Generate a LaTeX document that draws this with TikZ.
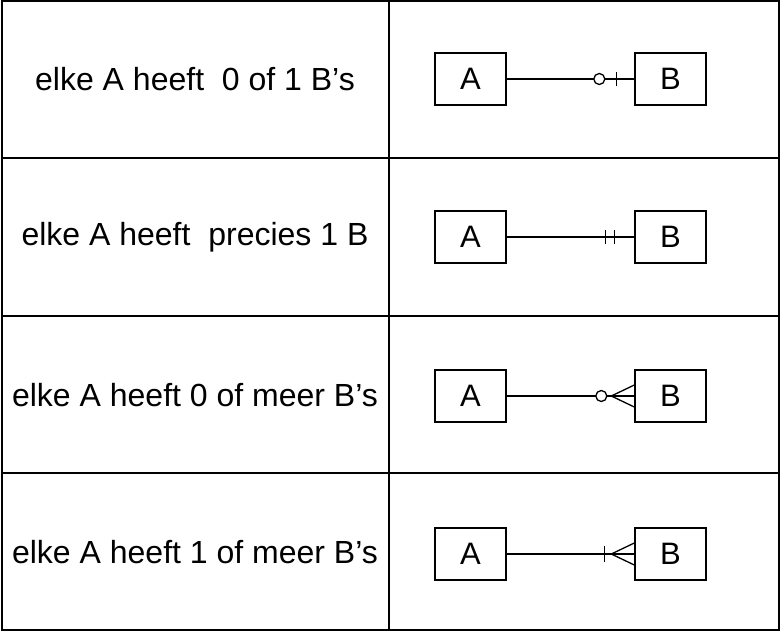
\documentclass[tikz,border=0pt]{standalone}
\usepackage{fontspec}
\setmainfont{Liberation Sans}
\begin{document}
\begin{tikzpicture}[x=1pt,y=-1pt,
  box/.style={draw,line width=1.4pt,minimum width=71pt,minimum height=52pt,inner sep=0pt,font=\fontsize{31}{34}\selectfont},
  lbl/.style={font=\fontsize{32}{36}\selectfont,inner sep=0pt},
  conn/.style={line width=1.3pt},
  grid/.style={line width=2pt}]
\useasboundingbox (0,0) rectangle (782,632);
\draw[grid] (2,1) rectangle (779,630);
\draw[grid] (389,1) -- (389,630);
\draw[grid] (2,158) -- (779,158);
\draw[grid] (2,316) -- (779,316);
\draw[grid] (2,473) -- (779,473);
% row 1
\node[lbl] (t1) at (195,79) {elke A heeft\ \ 0 of 1 B’s};
\node[box] (a1) at (470.5,79) {A};
\node[box] (b1) at (670.5,79) {B};
\draw[conn] (a1.east) -- ([xshift=-40.5]b1.west);
\draw[conn] ([xshift=-29.5]b1.west) -- (b1.west);
\draw[conn] ([xshift=-35]b1.west) circle[radius=5.5];
\draw[conn] ([xshift=-18,yshift=-7]b1.west) -- ([xshift=-18,yshift=7]b1.west);
% row 2
\node[lbl] (t2) at (195,237) {elke A heeft\ \ precies 1 B};
\node[box] (a2) at (470.5,237) {A};
\node[box] (b2) at (670.5,237) {B};
\draw[conn] (a2.east) -- (b2.west);
\draw[conn] ([xshift=-29,yshift=-7]b2.west) -- ([xshift=-29,yshift=7]b2.west);
\draw[conn] ([xshift=-20,yshift=-7]b2.west) -- ([xshift=-20,yshift=7]b2.west);
% row 3
\node[lbl] (t3) at (195,395) {elke A heeft 0 of meer B’s};
\node[box] (a3) at (470.5,396) {A};
\node[box] (b3) at (670.5,396) {B};
\draw[conn] (a3.east) -- ([xshift=-38.5]b3.west);
\draw[conn] ([xshift=-27.5]b3.west) -- (b3.west);
\draw[conn] ([xshift=-33]b3.west) circle[radius=5.5];
\draw[conn] ([yshift=-11]b3.west) -- ([xshift=-23]b3.west) -- ([yshift=11]b3.west);
% row 4
\node[lbl] (t4) at (195,552) {elke A heeft 1 of meer B’s};
\node[box] (a4) at (470.5,554) {A};
\node[box] (b4) at (670.5,554) {B};
\draw[conn] (a4.east) -- (b4.west);
\draw[conn] ([xshift=-30,yshift=-8]b4.west) -- ([xshift=-30,yshift=8]b4.west);
\draw[conn] ([yshift=-11]b4.west) -- ([xshift=-23]b4.west) -- ([yshift=11]b4.west);
\end{tikzpicture}
\end{document}
